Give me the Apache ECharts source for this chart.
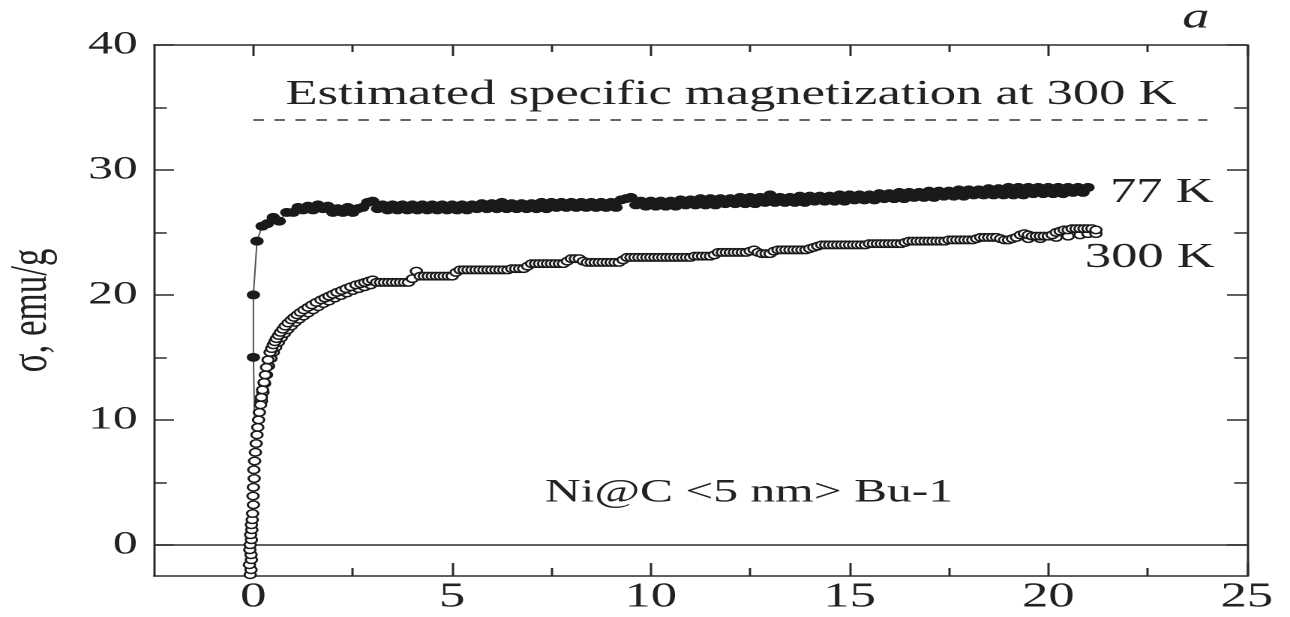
<!DOCTYPE html>
<html>
<head>
<meta charset="utf-8">
<script src="https://cdn.jsdelivr.net/npm/echarts@6/dist/echarts.min.js"></script>
<style>
html,body{margin:0;padding:0;background:#fff;overflow:hidden;}
#wrap{width:1290px;height:617px;overflow:hidden;position:relative;}
#chart{width:860px;height:617px;transform:scaleX(1.5);transform-origin:0 0;}
</style>
</head>
<body>
<div id="wrap"><div id="chart"></div></div>
<script>
// ---- tick labels ----
const xTicksMajor = [0, 5, 10, 15, 20, 25];
const xTicksMinor = [2.5, 7.5, 12.5, 17.5, 22.5];
const yTicksMajor = [0, 10, 20, 30, 40];
const yTicksMinor = [5, 15, 25, 35];

// ---- 77 K (filled markers) : [field, sigma] ----
const points77K = [
  [0.03,10.0],[0.0,15.0],[0.0,20.0],[0.09,24.3],[0.22,25.5],[0.35,25.7],[0.5,26.2],[0.65,25.9],[0.84,26.6],
  [1.0,26.6],[1.125,27.0],[1.25,26.8],[1.375,27.1],[1.5,26.8],[1.625,27.2],[1.75,26.9],[1.875,27.1],[2.0,26.6],
  [2.125,26.9],[2.25,26.6],[2.375,27.0],[2.5,26.6],[2.625,26.9],[2.75,27.0],[2.875,27.4],[3.0,27.5],[3.125,26.9],
  [3.25,27.2],[3.375,26.8],[3.5,27.2],[3.625,26.8],[3.75,27.2],[3.875,26.8],[4.0,27.2],[4.125,26.8],[4.25,27.2],
  [4.375,26.8],[4.5,27.2],[4.625,26.8],[4.75,27.2],[4.875,26.8],[5.0,27.2],[5.125,26.8],[5.25,27.2],[5.375,26.8],
  [5.5,27.2],[5.625,26.9],[5.75,27.3],[5.875,26.9],[6.0,27.3],[6.125,26.9],[6.25,27.4],[6.375,26.9],[6.5,27.3],
  [6.625,26.9],[6.75,27.3],[6.875,26.9],[7.0,27.3],[7.125,26.9],[7.25,27.4],[7.375,26.9],[7.5,27.4],[7.625,27.0],
  [7.75,27.4],[7.875,27.0],[8.0,27.4],[8.125,27.0],[8.25,27.4],[8.375,27.0],[8.5,27.4],[8.625,27.0],[8.75,27.4],
  [8.875,27.0],[9.0,27.4],[9.125,27.0],[9.25,27.6],[9.375,27.7],[9.5,27.8],[9.625,27.2],[9.75,27.5],[9.875,27.1],
  [10.0,27.5],[10.125,27.1],[10.25,27.5],[10.375,27.1],[10.5,27.5],[10.625,27.1],[10.75,27.6],[10.875,27.2],
  [11.0,27.6],[11.125,27.2],[11.25,27.7],[11.375,27.2],[11.5,27.7],[11.625,27.2],[11.75,27.7],[11.875,27.3],
  [12.0,27.7],[12.125,27.3],[12.25,27.8],[12.375,27.3],[12.5,27.8],[12.625,27.3],[12.75,27.8],[12.875,27.4],
  [13.0,28.0],[13.125,27.4],[13.25,27.8],[13.375,27.4],[13.5,27.8],[13.625,27.4],[13.75,27.9],[13.875,27.4],
  [14.0,27.9],[14.125,27.5],[14.25,27.9],[14.375,27.5],[14.5,27.9],[14.625,27.5],[14.75,28.0],[14.875,27.5],
  [15.0,28.0],[15.125,27.6],[15.25,28.0],[15.375,27.6],[15.5,28.0],[15.625,27.6],[15.75,28.1],[15.875,27.7],
  [16.0,28.1],[16.125,27.7],[16.25,28.2],[16.375,27.7],[16.5,28.2],[16.625,27.8],[16.75,28.2],[16.875,27.8],
  [17.0,28.3],[17.125,27.8],[17.25,28.3],[17.375,27.9],[17.5,28.3],[17.625,27.9],[17.75,28.4],[17.875,27.9],
  [18.0,28.4],[18.125,28.0],[18.25,28.4],[18.375,28.0],[18.5,28.5],[18.625,28.0],[18.75,28.5],[18.875,28.0],
  [19.0,28.6],[19.125,28.0],[19.25,28.6],[19.375,28.0],[19.5,28.6],[19.625,28.1],[19.75,28.6],[19.875,28.1],
  [20.0,28.6],[20.125,28.1],[20.25,28.6],[20.375,28.1],[20.5,28.6],[20.625,28.2],[20.75,28.6],[20.875,28.2],[21.0,28.6]
];

// ---- 300 K (open markers), main sweep : [field, sigma] ----
const points300K = [
  [-0.08,-2.4],[-0.06,-2.0],[-0.1,-1.6],[-0.05,-1.2],[-0.06,-0.8],[-0.09,-0.4],[-0.08,0.0],[-0.05,0.4],[-0.07,0.8],
  [-0.04,1.2],[-0.05,1.6],[-0.03,2.0],[-0.02,2.5],[0.0,3.2],[-0.01,3.9],[0.0,4.6],[0.02,5.3],[0.01,6.0],[0.03,6.7],
  [0.05,7.4],[0.07,8.1],[0.09,8.8],[0.11,9.4],[0.13,10.0],[0.15,10.6],[0.18,11.2],[0.2,11.8],[0.23,12.4],[0.27,13.0],
  [0.3,13.6],[0.33,14.2],[0.37,14.8],[0.42,15.4],[0.46,15.7],[0.5,16.0],[0.54,16.25],[0.58,16.5],[0.63,16.75],
  [0.68,17.0],[0.74,17.25],[0.8,17.5],[0.87,17.75],[0.95,18.0],[1.02,18.2],[1.1,18.4],[1.18,18.6],[1.27,18.8],
  [1.37,19.0],[1.47,19.2],[1.58,19.4],[1.7,19.6],[1.8,19.75],[1.9,19.9],[2.0,20.05],[2.1,20.2],[2.22,20.35],
  [2.33,20.5],[2.45,20.65],[2.58,20.8],[2.7,20.9],[2.8,21.0],[2.9,21.1],[3.0,21.2],
  [3.1,21.0],[3.2,21.0],[3.3,21.0],[3.4,21.0],[3.5,21.0],[3.6,21.0],[3.7,21.0],[3.8,21.0],[3.9,21.0],[4.0,21.3],
  [4.1,21.9],[4.2,21.5],[4.3,21.5],[4.4,21.5],[4.5,21.5],[4.6,21.5],[4.7,21.5],[4.8,21.5],[4.9,21.5],[5.0,21.5],
  [5.1,21.8],[5.2,22.0],[5.3,22.0],[5.4,22.0],[5.5,22.0],[5.6,22.0],[5.7,22.0],[5.8,22.0],[5.9,22.0],[6.0,22.0],
  [6.1,22.0],[6.2,22.0],[6.3,22.0],[6.4,22.0],[6.5,22.1],[6.6,22.1],[6.7,22.1],[6.8,22.1],[6.9,22.3],[7.0,22.5],
  [7.1,22.5],[7.2,22.5],[7.3,22.5],[7.4,22.5],[7.5,22.5],[7.6,22.5],[7.7,22.5],[7.8,22.5],[7.9,22.7],[8.0,22.9],
  [8.1,22.9],[8.2,22.9],[8.3,22.7],[8.4,22.6],[8.5,22.6],[8.6,22.6],[8.7,22.6],[8.8,22.6],[8.9,22.6],[9.0,22.6],
  [9.1,22.6],[9.2,22.6],[9.3,22.8],[9.4,23.0],[9.5,23.0],[9.6,23.0],[9.7,23.0],[9.8,23.0],[9.9,23.0],[10.0,23.0],
  [10.1,23.0],[10.2,23.0],[10.3,23.0],[10.4,23.0],[10.5,23.0],[10.6,23.0],[10.7,23.0],[10.8,23.0],[10.9,23.0],
  [11.0,23.0],[11.1,23.1],[11.2,23.1],[11.3,23.1],[11.4,23.1],[11.5,23.1],[11.6,23.2],[11.7,23.4],[11.8,23.4],
  [11.9,23.4],[12.0,23.4],[12.1,23.4],[12.2,23.4],[12.3,23.4],[12.4,23.4],[12.5,23.5],[12.6,23.6],[12.7,23.4],
  [12.8,23.3],[12.9,23.3],[13.0,23.3],[13.1,23.5],[13.2,23.6],[13.3,23.6],[13.4,23.6],[13.5,23.6],[13.6,23.6],
  [13.7,23.6],[13.8,23.6],[13.9,23.6],[14.0,23.7],[14.1,23.8],[14.2,23.9],[14.3,24.0],[14.4,24.0],[14.5,24.0],
  [14.6,24.0],[14.7,24.0],[14.8,24.0],[14.9,24.0],[15.0,24.0],[15.1,24.0],[15.2,24.0],[15.3,24.0],[15.4,24.0],
  [15.5,24.1],[15.6,24.1],[15.7,24.1],[15.8,24.1],[15.9,24.1],[16.0,24.1],[16.1,24.1],[16.2,24.1],[16.3,24.1],
  [16.4,24.2],[16.5,24.3],[16.6,24.3],[16.7,24.3],[16.8,24.3],[16.9,24.3],[17.0,24.3],[17.1,24.3],[17.2,24.3],
  [17.3,24.3],[17.4,24.3],[17.5,24.4],[17.6,24.4],[17.7,24.4],[17.8,24.4],[17.9,24.4],[18.0,24.4],[18.1,24.4],
  [18.2,24.5],[18.3,24.6],[18.4,24.6],[18.5,24.6],[18.6,24.6],[18.7,24.6],[18.8,24.5],[18.9,24.4],[19.0,24.4],
  [19.1,24.5],[19.2,24.6],[19.3,24.8],[19.4,24.9],[19.5,24.8],[19.6,24.7],[19.7,24.7],[19.8,24.7],[19.9,24.7],
  [20.0,24.7],[20.1,24.8],[20.2,25.0],[20.3,25.1],[20.4,25.2],[20.5,25.2],[20.6,25.3],[20.7,25.3],[20.8,25.3],
  [20.9,25.3],[21.0,25.3],[21.1,25.3],[21.2,25.2]
];

// ---- 300 K (open markers), return sweep : [field, sigma] ----
const points300KBack = [
  [0.2,11.5],[0.24,12.2],[0.28,12.9],[0.33,13.6],[0.38,14.3],[0.44,14.9],[0.5,15.4],[0.56,15.8],[0.63,16.2],
  [0.7,16.55],[0.78,16.9],[0.86,17.2],[0.95,17.5],[1.05,17.8],[1.15,18.05],[1.26,18.3],[1.38,18.55],[1.5,18.8],
  [1.63,19.05],[1.76,19.3],[1.9,19.5],[2.05,19.75],[2.2,19.95],[2.35,20.15],[2.5,20.35],[2.65,20.5],[2.8,20.65],
  [2.95,20.8],[19.5,24.5],[19.8,24.5],[20.2,24.6],[20.5,24.7],[20.8,24.8],[21.0,24.9],[21.2,24.9]
];

// ---- estimated specific magnetization level (dashed line) ----
const estimatedLevel = 34;
const estimatedRange = [0, 24];

// ---- texts ----
const texts = {
  yName: 'σ, emu/g',
  estimated: 'Estimated specific magnetization at 300 K',
  label77: '77 K',
  label300: '300 K',
  sample: 'Ni@C <5 nm> Bu-1',
  panel: 'a'
};

const AX = '#2b2b2b';
const TXT = '#222';
const FONT = '"Liberation Serif", "Times New Roman", serif';

function xAxisCfg(pos, ticks, len, showLabel, showLine) {
  return {
    type: 'value', position: pos, min: -2.5, max: 25, interval: 2.5,
    axisLine: { show: showLine, onZero: false, lineStyle: { color: AX, width: 1.5 } },
    axisTick: { show: true, inside: true, length: len, customValues: ticks, lineStyle: { color: AX, width: 1.5 } },
    axisLabel: { show: showLabel, customValues: xTicksMajor, color: TXT, fontFamily: FONT, fontSize: 35, margin: 4 },
    splitLine: { show: false }
  };
}
function yAxisCfg(pos, ticks, len, showLabel, showLine) {
  return {
    type: 'value', position: pos, min: -2.5, max: 40, interval: 2.5,
    axisLine: { show: showLine, onZero: false, lineStyle: { color: AX, width: 1.5 } },
    axisTick: { show: true, inside: true, length: len, customValues: ticks, lineStyle: { color: AX, width: 1.5 } },
    axisLabel: { show: showLabel, customValues: yTicksMajor, color: TXT, fontFamily: FONT, fontSize: 33, margin: 11 },
    splitLine: { show: false }
  };
}

const yMain = yAxisCfg('left', yTicksMajor, 13.3, true, true);
yMain.name = texts.yName;
yMain.nameLocation = 'middle';
yMain.nameRotate = 90;
yMain.nameGap = 64;
yMain.nameTextStyle = { color: TXT, fontFamily: FONT, fontSize: 35 };

const chart = echarts.init(document.getElementById('chart'), null, { renderer: 'canvas', devicePixelRatio: 2 });

const openMarker = { color: '#fff', borderColor: '#1a1a1a', borderWidth: 1.5, opacity: 1 };

// first 77 K point only carries the connecting line (its marker is hidden under the 300 K markers)
const data77 = points77K.map((p, i) => i === 0 ? { value: p, symbolSize: 0 } : p);

const option = {
  animation: false,
  backgroundColor: '#fff',
  grid: { left: 102.7, right: 28.7, top: 45, bottom: 41, containLabel: false, outerBoundsMode: 'none' },
  xAxis: [
    xAxisCfg('bottom', xTicksMajor, 13, true, true),
    xAxisCfg('bottom', xTicksMinor, 8, false, false),
    xAxisCfg('top', xTicksMajor, 11, false, true),
    xAxisCfg('top', xTicksMinor, 7, false, false)
  ],
  yAxis: [
    yMain,
    yAxisCfg('left', yTicksMinor, 8.5, false, false),
    yAxisCfg('right', yTicksMajor, 13.3, false, true),
    yAxisCfg('right', yTicksMinor, 8.5, false, false)
  ],
  series: [
    {
      name: '77 K', type: 'line', xAxisIndex: 0, yAxisIndex: 0,
      data: data77, symbol: 'circle', symbolSize: 9, showSymbol: true,
      itemStyle: { color: '#1a1a1a' },
      lineStyle: { color: '#555', width: 1 },
      z: 3,
      markLine: {
        silent: true, symbol: 'none', label: { show: false },
        lineStyle: { color: '#333', width: 1.5, type: [7, 7] },
        data: [[{ coord: [estimatedRange[0], estimatedLevel] }, { coord: [estimatedRange[1], estimatedLevel] }]]
      }
    },
    {
      name: '300 K back', type: 'scatter', xAxisIndex: 0, yAxisIndex: 0,
      data: points300KBack, symbol: 'circle', symbolSize: 7.5,
      itemStyle: openMarker, z: 4
    },
    {
      name: '300 K', type: 'scatter', xAxisIndex: 0, yAxisIndex: 0,
      data: points300K, symbol: 'circle', symbolSize: 7.5,
      itemStyle: openMarker,
      z: 5,
      markLine: {
        silent: true, symbol: 'none', label: { show: false },
        lineStyle: { color: AX, width: 1.5, type: 'solid' },
        data: [{ yAxis: 0 }]
      }
    }
  ],
  graphic: [
    { type: 'text', x: 487.3, y: 95, style: { text: texts.estimated, font: '35px ' + FONT, fill: TXT, textAlign: 'center', textVerticalAlign: 'middle' } },
    { type: 'text', x: 740, y: 193, style: { text: texts.label77, font: '35px ' + FONT, fill: TXT, textAlign: 'left', textVerticalAlign: 'middle' } },
    { type: 'text', x: 723.3, y: 258, style: { text: texts.label300, font: '35px ' + FONT, fill: TXT, textAlign: 'left', textVerticalAlign: 'middle' } },
    { type: 'text', x: 499.3, y: 493, style: { text: texts.sample, font: '33px ' + FONT, fill: TXT, textAlign: 'center', textVerticalAlign: 'middle' } },
    { type: 'text', x: 797.3, y: 18, style: { text: texts.panel, font: 'italic 36px ' + FONT, fill: TXT, textAlign: 'center', textVerticalAlign: 'middle' } }
  ]
};
chart.setOption(option);
</script>
</body>
</html>
